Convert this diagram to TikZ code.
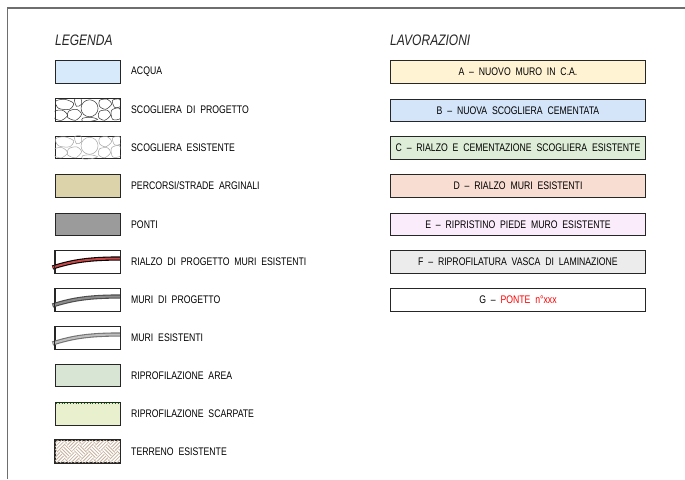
\documentclass[tikz,border=0pt]{standalone}
\usepackage{fontspec}
\newfontfamily\cad[FakeStretch=0.79,WordSpace=2.0]{Liberation Sans}
\usetikzlibrary{calc}
\definecolor{acqua}{RGB}{214,234,251}
\definecolor{strade}{RGB}{221,211,170}
\definecolor{ponti}{RGB}{155,155,155}
\definecolor{area}{RGB}{216,228,212}
\definecolor{scarp}{RGB}{232,240,206}
\definecolor{terr}{RGB}{200,178,158}
\definecolor{lavA}{RGB}{255,243,212}
\definecolor{lavB}{RGB}{212,229,250}
\definecolor{lavC}{RGB}{222,237,216}
\definecolor{lavD}{RGB}{248,221,210}
\definecolor{lavE}{RGB}{250,236,251}
\definecolor{lavF}{RGB}{236,236,236}
\definecolor{frame}{RGB}{110,110,110}
\definecolor{rialzo}{RGB}{200,70,70}
\tikzset{
  legbox/.style={draw=black!85,line width=0.9pt,minimum width=65pt,minimum height=22.5pt,inner sep=0pt},
  lavbox/.style={draw=black!85,line width=0.9pt,minimum width=255pt,minimum height=22.5pt,inner sep=0pt,font=\cad\fontsize{11}{13}\selectfont},
  legtxt/.style={anchor=west,inner sep=0pt,font=\cad\fontsize{11}{13}\selectfont},
  title/.style={anchor=west,inner sep=0pt,font=\cad\fontsize{15.2}{18}\selectfont\itshape,text=black!85},
  stone/.style={draw=#1,line width=0.5pt},
}
\newcommand{\stones}[1]{%
  \draw[stone=#1] plot[smooth cycle] coordinates {(1,3) (10,1) (19,5) (15,11) (4,10)};
  \draw[stone=#1] plot[smooth cycle] coordinates {(0,13) (8,12) (13,17) (7,22) (0,20)};
  \draw[stone=#1] plot[smooth cycle] coordinates {(14,13) (22,11) (27,16) (21,22) (13,19)};
  \draw[stone=#1] (35,10) circle (8.5);
  \draw[stone=#1] plot[smooth cycle] coordinates {(45,2) (53,1) (57,6) (51,11) (45,8)};
  \draw[stone=#1] plot[smooth cycle] coordinates {(57,12) (65,10) (66,20) (58,21)};
  \draw[stone=#1] plot[smooth cycle] coordinates {(28,20) (36,19) (43,21) (36,23) (28,23)};
  \draw[stone=#1] plot[smooth cycle] coordinates {(45,13) (53,12) (56,17) (50,22) (44,19)};
  \draw[stone=#1] plot[smooth cycle] coordinates {(58,2) (65,1) (66,8) (60,9)};
  \draw[stone=#1] plot[smooth cycle] coordinates {(20,1) (26,0) (27,6) (22,8)};
}
\begin{document}
\begin{tikzpicture}[x=1pt,y=-1pt]
\useasboundingbox (0,0) rectangle (685,479);
\fill[white] (0,0) rectangle (685,479);
% frame
\draw[frame,line width=1.6pt] (685,8) -- (7.5,8) -- (7.5,479);

% titles
\node[title] (legenda) at (55,40) {LEGENDA};
\node[title] (lavorazioni) at (390,40) {LAVORAZIONI};

% legend boxes
\node[legbox,fill=acqua] (b1) at (87.5,72) {};
\node[legbox,fill=white] (b2) at (87.5,110) {};
\node[legbox,fill=white] (b3) at (87.5,147.5) {};
\node[legbox,fill=strade] (b4) at (87.5,186) {};
\node[legbox,fill=ponti] (b5) at (87.5,224.5) {};
\node[legbox,fill=white] (b6) at (87.5,262) {};
\node[legbox,fill=white] (b7) at (87.5,300) {};
\node[legbox,fill=white] (b8) at (87.5,338) {};
\node[legbox,fill=area] (b9) at (87.5,375.5) {};
\node[legbox,fill=scarp] (b10) at (87.5,414) {};
\node[legbox,fill=white] (b11) at (87.5,451.5) {};

% scogliera patterns
\begin{scope}
\clip (b2.south west) rectangle (b2.north east);
\begin{scope}[shift={(b2.north west)}]\stones{black!80}\end{scope}
\end{scope}
\begin{scope}
\clip (b3.south west) rectangle (b3.north east);
\begin{scope}[shift={(b3.north west)}]\stones{black!35}\end{scope}
\end{scope}

% wall curves
\draw[black,line width=4.2pt] ($(b6.west)+(-2,5.5)$) .. controls ($(b6.west)+(18,-1)$) and ($(b6.west)+(35,-3.5)$) .. ($(b6.east)+(0,-3.5)$);
\draw[rialzo,line width=2pt] ($(b6.west)+(-2,5.5)$) .. controls ($(b6.west)+(18,-1)$) and ($(b6.west)+(35,-3.5)$) .. ($(b6.east)+(0,-3.5)$);
\draw[black!70,line width=4.2pt] ($(b7.west)+(-2,5.5)$) .. controls ($(b7.west)+(18,-1)$) and ($(b7.west)+(35,-3.5)$) .. ($(b7.east)+(0,-3.5)$);
\draw[black!45,line width=2pt] ($(b7.west)+(-2,5.5)$) .. controls ($(b7.west)+(18,-1)$) and ($(b7.west)+(35,-3.5)$) .. ($(b7.east)+(0,-3.5)$);
\draw[black!55,line width=4.2pt] ($(b8.west)+(-2,5.5)$) .. controls ($(b8.west)+(18,-1)$) and ($(b8.west)+(35,-3.5)$) .. ($(b8.east)+(0,-3.5)$);
\draw[black!25,line width=2pt] ($(b8.west)+(-2,5.5)$) .. controls ($(b8.west)+(18,-1)$) and ($(b8.west)+(35,-3.5)$) .. ($(b8.east)+(0,-3.5)$);
\draw[black!85,line width=0.9pt] (b6.south west) rectangle (b6.north east);
\draw[black!85,line width=0.9pt] (b7.south west) rectangle (b7.north east);
\draw[black!85,line width=0.9pt] (b8.south west) rectangle (b8.north east);

% scarpate dotted top
\draw[green!45!black,line width=0.8pt,dotted] ($(b10.north west)+(1.5,1.5)$) -- ($(b10.north east)+(-1.5,1.5)$);

% terreno pattern
\begin{scope}
\clip (b11.south west) rectangle (b11.north east);
\begin{scope}[shift={(b11.center)},rotate=45]
\foreach \i in {-6,...,5}{\foreach \j in {-6,...,5}{%
  \pgfmathtruncatemacro\p{mod(\i+\j+20,2)}%
  \ifnum\p=0
    \foreach \k in {1.25,3.75,6.25,8.75}{\draw[terr,line width=0.8pt] (\i*10+\k,\j*10) -- ++(0,10);}
  \else
    \foreach \k in {1.25,3.75,6.25,8.75}{\draw[terr,line width=0.8pt] (\i*10,\j*10+\k) -- ++(10,0);}
  \fi
}}
\end{scope}
\end{scope}
\draw[black!85,line width=0.9pt] (b11.south west) rectangle (b11.north east);

% legend texts
\node[legtxt] (t1) at (131,72) {ACQUA};
\node[legtxt] (t2) at (131,110) {SCOGLIERA DI PROGETTO};
\node[legtxt] (t3) at (131,147.5) {SCOGLIERA ESISTENTE};
\node[legtxt] (t4) at (131,186) {PERCORSI/STRADE ARGINALI};
\node[legtxt] (t5) at (131,224.5) {PONTI};
\node[legtxt] (t6) at (131,262) {RIALZO DI PROGETTO MURI ESISTENTI};
\node[legtxt] (t7) at (131,300) {MURI DI PROGETTO};
\node[legtxt] (t8) at (131,338) {MURI ESISTENTI};
\node[legtxt] (t9) at (131,375.5) {RIPROFILAZIONE AREA};
\node[legtxt] (t10) at (131,414) {RIPROFILAZIONE SCARPATE};
\node[legtxt] (t11) at (131,451.5) {TERRENO ESISTENTE};

% lavorazioni
\node[lavbox,fill=lavA] (lA) at (518,72) {A – NUOVO MURO IN C.A.};
\node[lavbox,fill=lavB] (lB) at (518,110.5) {B – NUOVA SCOGLIERA CEMENTATA};
\node[lavbox,fill=lavC] (lC) at (518,148) {C – RIALZO E CEMENTAZIONE SCOGLIERA ESISTENTE};
\node[lavbox,fill=lavD] (lD) at (518,186) {D – RIALZO MURI ESISTENTI};
\node[lavbox,fill=lavE] (lE) at (518,224.5) {E – RIPRISTINO PIEDE MURO ESISTENTE};
\node[lavbox,fill=lavF] (lF) at (518,262) {F – RIPROFILATURA VASCA DI LAMINAZIONE};
\node[lavbox,fill=white] (lG) at (518,300) {G – \textcolor{red}{PONTE n°xxx}};
\end{tikzpicture}
\end{document}
